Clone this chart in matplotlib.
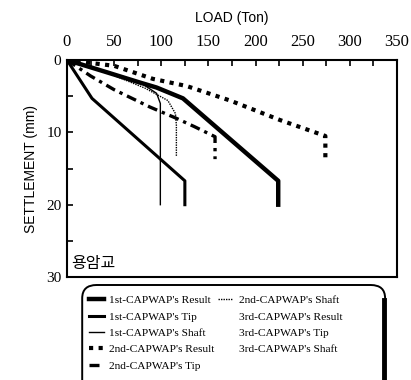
import matplotlib
matplotlib.use("Agg")
import matplotlib.pyplot as plt
from matplotlib.lines import Line2D
from matplotlib.patches import FancyBboxPatch

# data (load in Ton, settlement in mm)
r1_load = [0, 40, 77, 95, 123, 224, 224]
r1_set = [0, 1.6, 3.1, 3.8, 5.3, 16.7, 20]
t1_load = [0, 26.5, 125, 125]
t1_set = [0, 5.3, 16.7, 20]
s1_load = [0, 40, 80, 95, 99, 99]
s1_set = [0, 1.5, 3.3, 4.6, 6.0, 20]
r2_load = [0, 50, 91, 127, 173, 226, 274, 274]
r2_set = [0, 0.8, 2.6, 3.6, 5.6, 8.3, 10.5, 13.5]
t2_load = [0, 25, 50, 88, 115, 135, 157, 157]
t2_set = [0, 2.2, 4.1, 6.5, 8.0, 9.2, 10.6, 13.7]
s2_load = [0, 40, 83, 107, 115, 116, 116]
s2_set = [0, 1.6, 3.9, 5.6, 7.4, 9.0, 13.3]

labels = ["1st-CAPWAP's Result", "1st-CAPWAP's Tip", "1st-CAPWAP's Shaft",
          "2nd-CAPWAP's Result", "2nd-CAPWAP's Tip", "2nd-CAPWAP's Shaft",
          "3rd-CAPWAP's Result", "3rd-CAPWAP's Tip", "3rd-CAPWAP's Shaft"]

plt.rcParams['font.family'] = ['Liberation Serif', 'DejaVu Serif']

fig = plt.figure(figsize=(4.11, 3.80), dpi=100)
ax = fig.add_axes([0.163, 0.271, 0.803, 0.571])

h = []
h += ax.plot(r1_load, r1_set, color='black', lw=3.2)
h += ax.plot(t1_load, t1_set, color='black', lw=2.2)
h += ax.plot(s1_load, s1_set, color='black', lw=1.0)
h += ax.plot(r2_load, r2_set, color='black', lw=3.0, ls=(0, (1, 1.3)))
h += ax.plot(t2_load, t2_set, color='black', lw=2.4, ls=(0, (3, 1.5, 1, 1.5)))
h += ax.plot(s2_load, s2_set, color='black', lw=1.0, ls=(0, (1, 0.8)))
# 3rd CAPWAP entries have no visible sample in the legend
for _ in range(3):
    h.append(Line2D([], [], color='none'))

ax.set_xlim(0, 350)
ax.set_ylim(30, 0)
ax.xaxis.tick_top()
ax.xaxis.set_label_position('top')
ax.set_xticks(range(0, 351, 50))
ax.set_xticks(range(0, 351, 25), minor=True)
ax.set_yticks([0, 10, 20, 30])
ax.set_yticks([5, 15, 25], minor=True)
ax.tick_params(which='both', direction='in', length=4, width=1.2)
ax.tick_params(axis='x', labelsize=12, pad=7)
ax.tick_params(axis='y', labelsize=11, pad=4)
for s in ax.spines.values():
    s.set_linewidth(1.5)
ax.set_xlabel('LOAD (Ton)', fontsize=10, family='Liberation Sans', labelpad=9)
ax.set_ylabel('SETTLEMENT (mm)', fontsize=10, family='Liberation Sans', labelpad=6)

ax.text(4, 28.1, '용암교', fontsize=11.5, family=['Noto Sans CJK KR', 'DejaVu Sans'],
        va='center', ha='left')

# legend box with heavy right edge
box = FancyBboxPatch((0.2, -0.05), 0.737, 0.30, transform=fig.transFigure,
                     boxstyle='round,pad=0,rounding_size=0.035',
                     facecolor='white', edgecolor='black', lw=1.4)
fig.patches.append(box)
fig.add_artist(Line2D([0.935, 0.935], [0.0, 0.21], transform=fig.transFigure,
                      color='black', lw=3.5))

fig.legend(h, labels, ncol=2, loc='upper left', bbox_to_anchor=(0.205, 0.235),
           frameon=False, fontsize=8.2, handlelength=1.3, handletextpad=0.5,
           columnspacing=0.3, labelspacing=0.56, borderaxespad=0)

fig.savefig('out.png', dpi=100)
